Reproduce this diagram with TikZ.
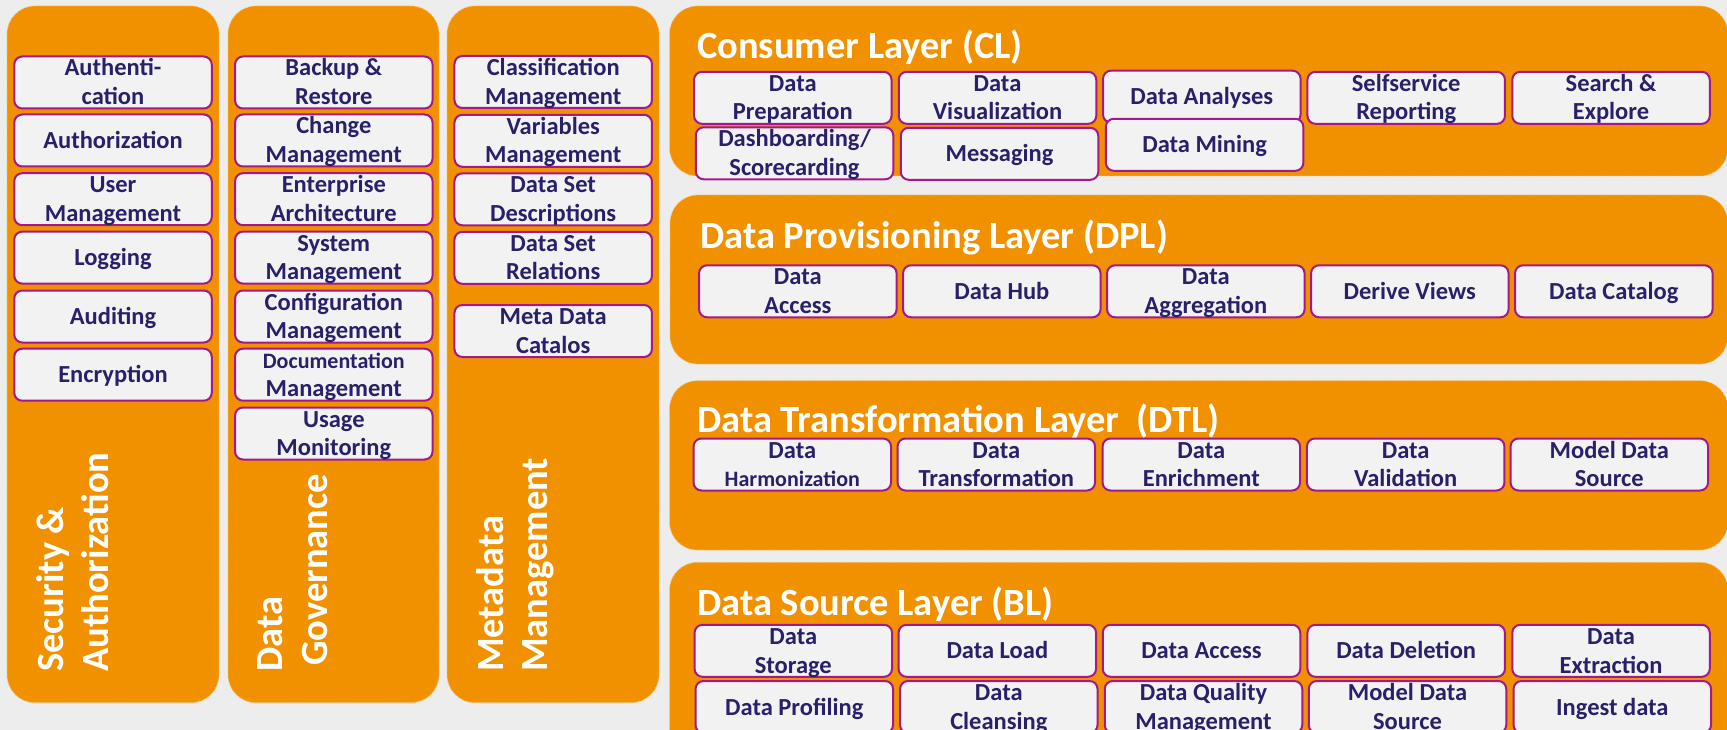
\documentclass[tikz,border=0pt]{standalone}
\usepackage{fontspec}
\setmainfont{Carlito}
\definecolor{bgc}{HTML}{EDEDED}
\definecolor{orng}{HTML}{F29100}
\definecolor{boxfill}{HTML}{F2F2F2}
\definecolor{boxline}{HTML}{A3198A}
\definecolor{navy}{HTML}{282068}
% two centred lines, baseline of the node = baseline of the first line
\newcommand\twoln[2]{\vtop{\halign{\hfil##\hfil\cr#1\cr#2\cr}}}
% two left-aligned lines for the rotated column titles
\newcommand\sidetxt[2]{\vtop{\baselineskip=44.5pt\halign{##\hfil\cr#1\cr#2\cr}}}
\newcommand\itemfont{\fontsize{24.5}{28.7}\selectfont\bfseries}
\newcommand\hdrfont{\fontsize{38.5}{44}\selectfont\bfseries}
\newcommand\smallitem{\fontsize{22}{26}\selectfont}
\tikzset{
  panel/.style={fill=orng, draw=orng!55!white, line width=0.8pt,
    dash pattern=on 1.5pt off 1.5pt, rounded corners=28pt},
  item/.style={draw=boxline, line width=2pt, fill=boxfill, rounded corners=8pt,
    minimum width=197.5pt, minimum height=52pt, inner sep=0pt,
    font=\itemfont, text=navy},
  one/.style={item, text height=16pt, text depth=0pt},
  two/.style={item, text height=10pt, text depth=23pt},
  hdr/.style={anchor=base west, text=white, font=\hdrfont, inner sep=0pt},
  side/.style={rotate=90, anchor=base west, text=white, font=\hdrfont, inner sep=0pt}
}
\begin{document}
\begin{tikzpicture}[x=1pt,y=-1pt]
\useasboundingbox (0,0) rectangle (1727,730);
\fill[bgc] (0,0) rectangle (1727,730);
\clip (0,0) rectangle (1727,730);

% vertical columns
\draw[panel] (7,6) rectangle (219,702.7);
\draw[panel] (228,6) rectangle (439,702.7);
\draw[panel] (447,6) rectangle (659,702.7);

% horizontal layers
\draw[panel] (669.5,6) rectangle (1728,176);
\draw[panel] (670,195) rectangle (1728,364);
\draw[panel] (669.5,380.7) rectangle (1728,550);
\draw[panel] (669.5,562.3) rectangle (1728,780);

% column titles
\node[side] (tsec) at (63.5,672) {\sidetxt{Security \&}{Authorization}};
\node[side] (tgov) at (282.5,672) {\sidetxt{Data}{\hskip6pt Governance}};
\node[side] (tmeta) at (503,672) {\sidetxt{Metadata}{Management}};

% Security & Authorization
\node[two] (a1) at (113,82.5) {\twoln{Authenti-}{cation}};
\node[one] (a2) at (113,140.5) {Authorization};
\node[two] (a3) at (113,199.2) {\twoln{User}{Management}};
\node[one] (a4) at (113,257.6) {Logging};
\node[one] (a5) at (113,316.5) {Auditing};
\node[one] (a6) at (113,374.7) {Encryption};

% Data Governance
\node[two] (g1) at (333.8,82.5) {\twoln{Backup \&}{Restore}};
\node[two] (g2) at (333.8,140.5) {\twoln{Change}{Management}};
\node[two] (g3) at (333.8,199.2) {\twoln{Enterprise}{Architecture}};
\node[two] (g4) at (333.8,257.6) {\twoln{System}{Management}};
\node[two] (g5) at (333.8,316.5) {\twoln{Configuration}{Management}};
\node[two] (g6) at (333.8,374.7) {\twoln{\smallitem Documentation}{Management}};
\node[two] (g7) at (333.8,433.5) {\twoln{Usage}{Monitoring}};

% Metadata Management
\node[two] (m1) at (553.2,82) {\twoln{Classification}{Management}};
\node[two] (m2) at (553.2,140.8) {\twoln{Variables}{Management}};
\node[two] (m3) at (553.2,199.3) {\twoln{Data Set}{Descriptions}};
\node[two] (m4) at (553.2,257.8) {\twoln{Data Set}{Relations}};
\node[two] (m5) at (553.2,331) {\twoln{Meta Data}{Catalos}};

% Consumer Layer
\node[hdr] (hcl) at (697,58.3) {Consumer Layer (CL)};
\node[two] (c1) at (792.8,97.8) {\twoln{Data}{Preparation}};
\node[two] (c2) at (997.5,97.8) {\twoln{Data}{Visualization}};
\node[one] (c3) at (1201.8,96.7) {Data Analyses};
\node[two] (c4) at (1406.2,97.8) {\twoln{Selfservice}{Reporting}};
\node[two] (c5) at (1611,97.8) {\twoln{Search \&}{Explore}};
\node[two] (c6) at (794.5,153.3) {\twoln{Dashboarding/}{Scorecarding}};
\node[one] (c7) at (999.5,153.8) {Messaging};
\node[one] (c8) at (1204.6,144.8) {Data Mining};

% Data Provisioning Layer
\node[hdr] (hdpl) at (700,248) {Data Provisioning Layer (DPL)};
\node[two] (p1) at (797.8,291.3) {\twoln{Data}{Access}};
\node[one] (p2) at (1001.8,291.3) {Data Hub};
\node[two] (p3) at (1205.8,291.3) {\twoln{Data}{Aggregation}};
\node[one] (p4) at (1409.8,291.3) {Derive Views};
\node[one] (p5) at (1613.8,291.3) {Data Catalog};

% Data Transformation Layer
\node[hdr] (hdtl) at (697,432.7) {Data Transformation Layer~ (DTL)};
\node[two] (t1) at (792.3,464.5) {\twoln{Data}{\smallitem Harmonization}};
\node[two] (t2) at (996.3,464.5) {\twoln{Data}{Transformation}};
\node[two] (t3) at (1201.3,464.5) {\twoln{Data}{Enrichment}};
\node[two] (t4) at (1405.7,464.5) {\twoln{Data}{Validation}};
\node[two] (t5) at (1609.3,464.5) {\twoln{Model Data}{Source}};

% Data Source Layer
\node[hdr] (hbl) at (697,615) {Data Source Layer (BL)};
\node[two] (s1) at (793.3,650.8) {\twoln{Data}{Storage}};
\node[one] (s2) at (997.3,650.8) {Data Load};
\node[one] (s3) at (1201.5,650.8) {Data Access};
\node[one] (s4) at (1406.2,650.8) {Data Deletion};
\node[two] (s5) at (1611,650.8) {\twoln{Data}{Extraction}};
\node[one] (s6) at (794.3,707) {Data Profiling};
\node[two] (s7) at (998.8,707) {\twoln{Data}{Cleansing}};
\node[two] (s8) at (1203.5,707) {\twoln{Data Quality}{Management}};
\node[two] (s9) at (1407.5,707) {\twoln{Model Data}{Source}};
\node[one] (s10) at (1612.3,707) {Ingest data};
\end{tikzpicture}
\end{document}
